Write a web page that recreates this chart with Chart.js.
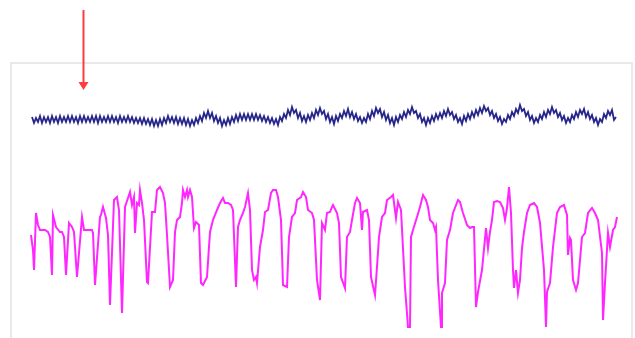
<!DOCTYPE html>
<html>
<head>
<meta charset="utf-8">
<script src="https://cdn.jsdelivr.net/npm/chart.js@4/dist/chart.umd.min.js"></script>
<style>
  html, body { margin: 0; padding: 0; background: #ffffff; }
  #wrap { width: 635px; height: 338px; position: relative; }
</style>
</head>
<body>
<div id="wrap"><canvas id="c"></canvas></div>
<script>
// Upper trace: sampled every 2 time units starting at t = 22
const upperStart = 22;
const upperStep = 2;
const upperValues = [
  221,215,220,216,222,215,221,216,221,215,
  222,216,221,215,222,216,221,216,222,216,
  222,216,221,215,222,216,222,216,221,216,
  222,216,222,215,222,216,221,216,222,216,
  222,216,221,215,222,216,221,216,222,216,
  221,215,220,215,220,214,220,214,219,213,
  219,212,218,212,219,213,220,215,222,216,
  221,215,221,214,220,214,220,213,219,212,
  218,213,220,215,222,217,225,220,227,220,
  225,217,222,215,220,212,218,213,220,214,
  221,216,223,217,224,218,224,218,224,218,
  224,218,224,218,223,217,222,216,221,215,
  220,214,219,213,221,217,224,220,228,223,
  231,225,228,220,225,217,222,216,223,218,
  225,220,228,223,230,224,227,219,224,216,
  221,214,222,217,224,220,227,222,229,221,
  226,219,224,217,221,215,220,216,224,219,
  227,222,230,225,229,221,226,218,223,215,
  220,213,221,216,223,219,226,221,228,224,
  231,225,227,220,224,216,220,213,220,215,
  222,217,224,219,225,220,227,222,229,223,
  226,219,223,216,220,214,222,217,224,219,
  226,221,228,223,230,225,232,227,230,223,
  227,220,224,217,221,214,219,216,223,219,
  226,222,229,225,233,227,229,222,226,218,
  222,215,220,216,223,219,226,221,228,224,
  231,225,228,221,225,218,222,215,220,216,
  223,219,226,221,228,224,229,221,226,219,
  223,216,220,213,219,216,224,220,227,223,
  228,218,221
];

// Lower trace: irregular sample times and their values
const lowerTimes = [
  21,23,24,26,28,30,35,38,40,42,43,46,50,52,54,56,59,62,64,67,
  72,74,78,82,83,85,90,91,93,96,98,100,104,107,109,112,115,118,120,122,
  124,125,127,129,130,132,134,137,138,142,145,147,150,153,155,157,160,163,165,167,
  170,172,173,175,177,178,180,182,184,186,189,191,193,197,200,203,207,210,213,215,
  218,221,223,226,228,230,233,235,238,240,242,244,246,247,250,253,255,258,261,263,
  266,268,271,273,277,279,282,285,287,291,293,296,298,302,304,307,310,312,315,317,
  320,322,323,327,329,331,335,337,340,342,345,347,350,352,353,357,359,361,365,367,
  369,372,375,377,381,383,386,388,391,395,398,400,401,403,407,410,413,416,418,420,
  423,425,426,428,431,432,435,437,440,443,448,450,453,457,460,462,464,466,468,472,
  476,478,480,482,484,487,490,493,495,497,499,501,503,504,506,508,510,512,514,517,
  520,524,527,530,534,536,537,540,543,545,547,550,554,557,558,560,561,563,566,568,
  572,575,578,582,585,588,592,593,595,598,600,603,605,607
];
const lowerValues = [
  103,88,68,125,113,108,108,106,101,63,123,111,106,106,101,63,115,111,106,61,
  121,108,108,108,105,53,121,123,131,120,103,33,138,141,128,25,131,140,146,133,
  141,105,135,133,148,135,118,56,55,126,126,148,151,145,135,103,51,58,106,118,
  121,135,148,141,148,141,148,141,110,116,113,55,53,61,106,118,128,135,140,135,
  135,133,128,51,111,118,125,131,145,128,68,58,61,55,91,108,126,128,145,148,
  148,141,118,53,51,101,121,125,138,141,146,141,128,125,118,58,38,115,108,125,
  126,131,133,125,115,61,50,101,106,118,135,140,135,108,126,128,118,61,43,71,
  101,121,125,138,141,143,120,136,128,51,11,11,101,108,121,131,143,138,131,118,
  115,108,111,58,11,45,55,98,108,125,138,136,125,113,110,111,111,31,46,68,
  110,90,106,118,136,137,136,130,118,130,151,125,68,50,68,45,58,90,106,125,
  133,135,131,115,68,11,46,55,91,108,125,131,133,123,83,100,98,58,48,55,
  101,105,125,130,125,118,85,18,55,105,91,108,111,121
];

// Event marker drawn above the traces
const markerTime = 73;
const markerTop = 328;
const markerTip = 248;

const upperData = upperValues.map((v, i) => ({ x: upperStart + i * upperStep, y: v }));
const lowerData = lowerTimes.map((t, i) => ({ x: t, y: lowerValues[i] }));

// Light frame around the plotting area (left, top, right edges)
const framePlugin = {
  id: 'frame',
  beforeDatasetsDraw(chart) {
    const { ctx, chartArea: a } = chart;
    ctx.save();
    ctx.strokeStyle = '#e9e9e9';
    ctx.lineWidth = 2;
    ctx.beginPath();
    ctx.moveTo(a.left + 1, a.bottom);
    ctx.lineTo(a.left + 1, a.top + 1);
    ctx.lineTo(a.right - 1, a.top + 1);
    ctx.lineTo(a.right - 1, a.bottom);
    ctx.stroke();
    ctx.restore();
  }
};

// Red downward arrow marking the event
const markerPlugin = {
  id: 'marker',
  afterDraw(chart) {
    const { ctx, scales } = chart;
    const x = Math.round(scales.x.getPixelForValue(markerTime)) + 0.5;
    const yTop = scales.y.getPixelForValue(markerTop);
    const yTip = scales.y.getPixelForValue(markerTip);
    ctx.save();
    ctx.strokeStyle = '#ff3c3c';
    ctx.fillStyle = '#ff3c3c';
    ctx.lineWidth = 2;
    ctx.beginPath();
    ctx.moveTo(x, yTop);
    ctx.lineTo(x, yTip - 6);
    ctx.stroke();
    ctx.beginPath();
    ctx.moveTo(x - 5, yTip - 8);
    ctx.lineTo(x + 5, yTip - 8);
    ctx.lineTo(x, yTip);
    ctx.closePath();
    ctx.fill();
    ctx.restore();
  }
};

new Chart(document.getElementById('c'), {
  type: 'line',
  data: {
    datasets: [
      {
        data: upperData,
        borderColor: '#25258a',
        borderWidth: 1.8,
        pointRadius: 0,
        tension: 0,
        fill: false
      },
      {
        data: lowerData,
        borderColor: '#ff26ff',
        borderWidth: 2,
        pointRadius: 0,
        tension: 0,
        fill: false
      }
    ]
  },
  options: {
    responsive: true,
    maintainAspectRatio: false,
    animation: false,
    layout: { padding: { left: 10, top: 62, right: 2, bottom: 0 } },
    plugins: {
      legend: { display: false },
      tooltip: { enabled: false }
    },
    scales: {
      x: { type: 'linear', min: 0, max: 623, display: false },
      y: { type: 'linear', min: 0, max: 276, display: false }
    }
  },
  plugins: [framePlugin, markerPlugin]
});
</script>
</body>
</html>
